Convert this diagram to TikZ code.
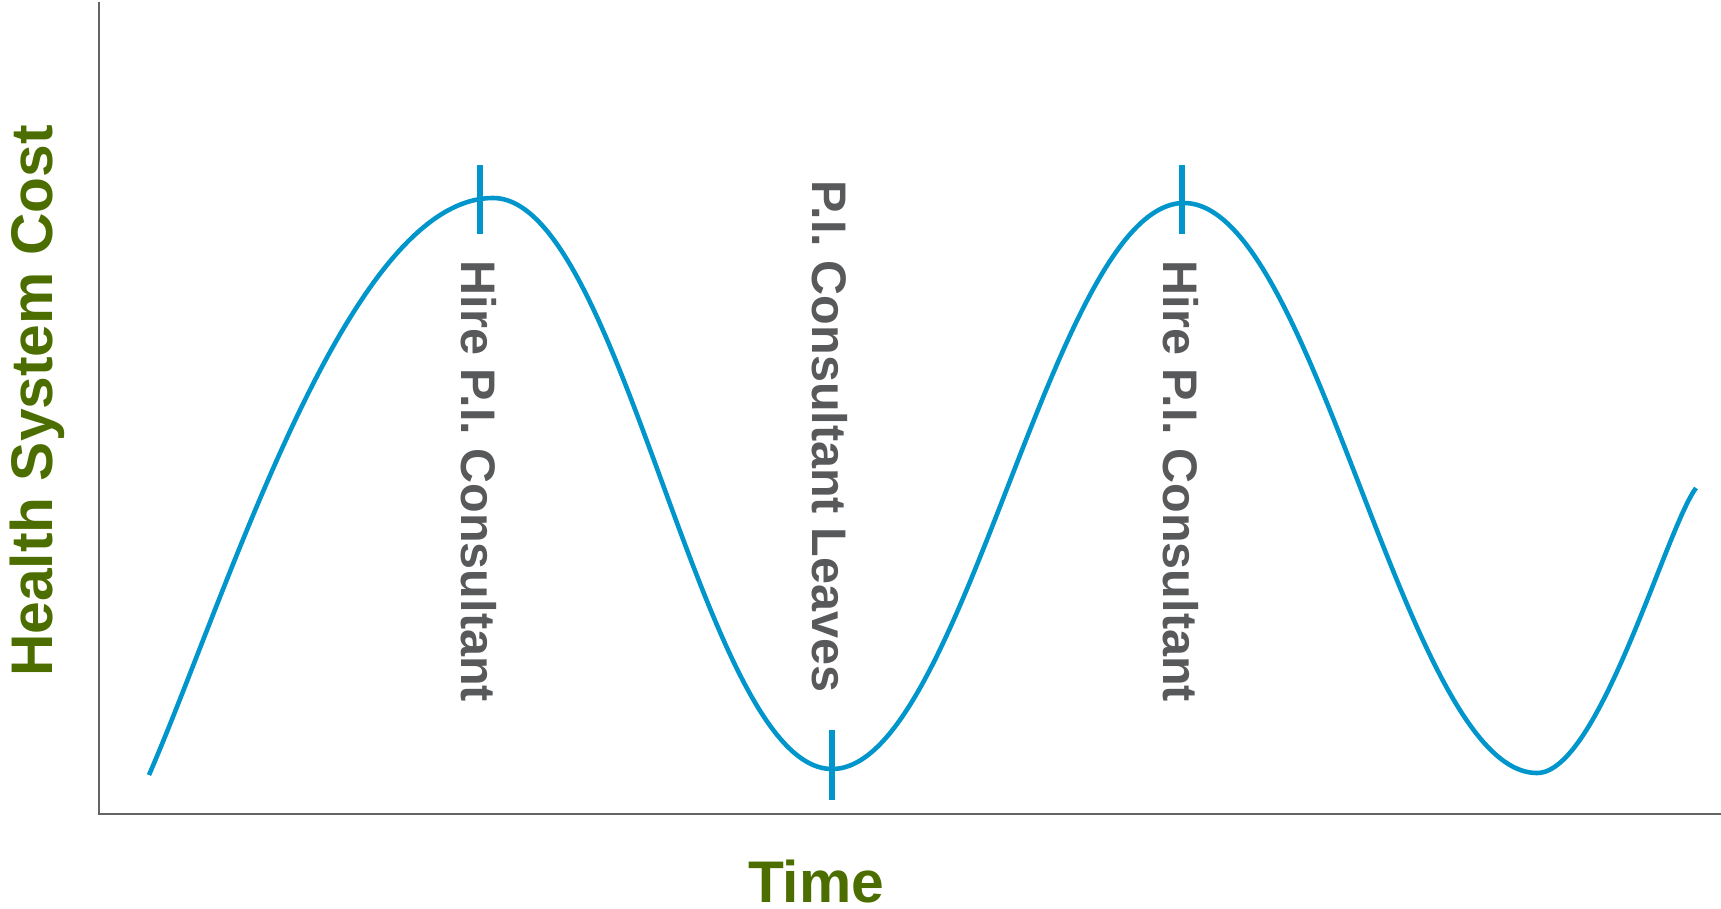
\documentclass[tikz,border=0pt]{standalone}
\usepackage{fontspec}
\setmainfont{Liberation Sans}
\definecolor{costblue}{RGB}{0,150,204}
\definecolor{labelgrey}{RGB}{88,89,91}
\definecolor{titlegreen}{RGB}{76,110,0}
\definecolor{axisgrey}{RGB}{100,100,100}
\tikzstyle{axis} = [draw=axisgrey, line width=0.8pt]
\tikzstyle{curve} = [draw=costblue, line width=1.3pt]
\tikzstyle{marker} = [draw=costblue, line width=1.7pt]
\tikzstyle{event} = [text=labelgrey, font={\bfseries\fontsize{13.8}{16}\selectfont}, inner sep=0pt, rotate=-90, anchor=base west]
\tikzstyle{title} = [text=titlegreen, font={\bfseries\fontsize{16.7}{20}\selectfont}, inner sep=0pt, anchor=base]

\begin{document}
\begin{tikzpicture}[x=0.01cm,y=-0.01cm]
    \useasboundingbox (0,0) rectangle (1721,909);
    % axes
    \coordinate (ytop) at (99,2);
    \coordinate (origin) at (99,814);
    \coordinate (xend) at (1721,814);
    \draw[axis] (ytop) -- (origin) -- (xend);
    % cost curve
    \coordinate (start) at (149,775);
    \coordinate (peak1) at (493,198);
    \coordinate (trough1) at (832,769);
    \coordinate (peak2) at (1184,203);
    \coordinate (trough2) at (1537,773);
    \coordinate (finish) at (1696,488);
    \draw[curve] (start) .. controls +(80,-185) and +(-145,0) .. (peak1)
        .. controls +(130,0) and +(-130,0) .. (trough1)
        .. controls +(132,0) and +(-132,0) .. (peak2)
        .. controls +(132,0) and +(-132,0) .. (trough2)
        .. controls +(62,0) and +(-30,40) .. (finish);
    % markers
    \coordinate (m1a) at (480,165);
    \coordinate (m1b) at (480,234);
    \coordinate (m2a) at (832,730);
    \coordinate (m2b) at (832,800);
    \coordinate (m3a) at (1182,165);
    \coordinate (m3b) at (1182,234);
    \draw[marker] (m1a) -- (m1b);
    \draw[marker] (m2a) -- (m2b);
    \draw[marker] (m3a) -- (m3b);
    % labels
    \node[event](hire1) at (461,260){Hire P.I. Consultant};
    \node[event](leaves) at (812,180){P.I. Consultant Leaves};
    \node[event](hire2) at (1163,260){Hire P.I. Consultant};
    \node[title,rotate=90](cost) at (52,401){Health System Cost};
    \node[title](time) at (816,902){Time};
\end{tikzpicture}
\end{document}
